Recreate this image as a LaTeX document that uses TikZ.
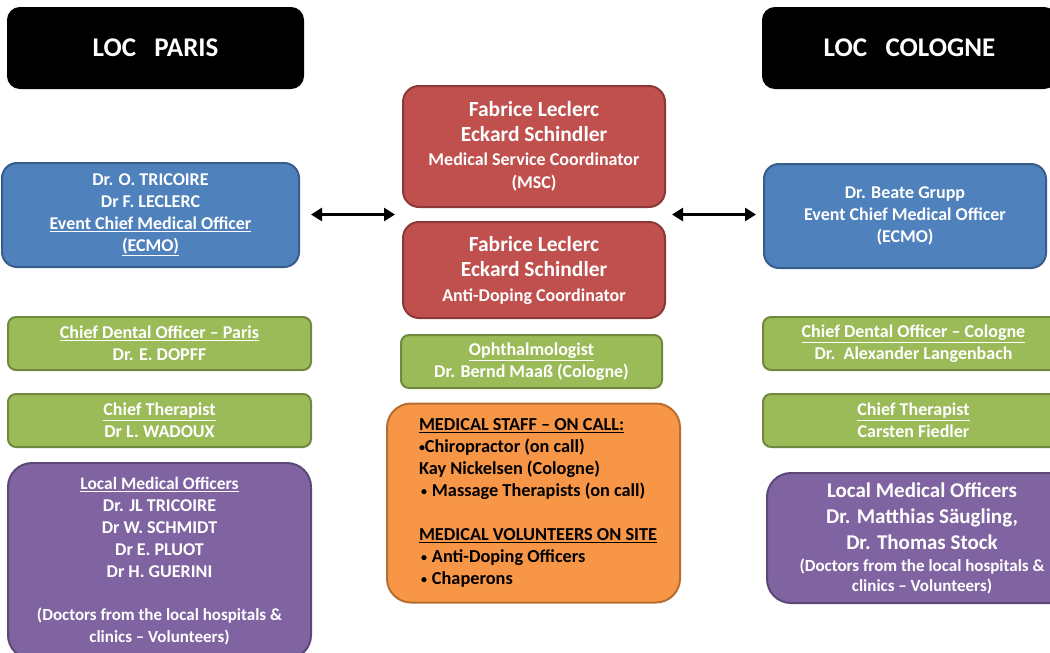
\documentclass[tikz,border=0pt]{standalone}
\usepackage{fontspec}
\setmainfont{Carlito}
\usetikzlibrary{arrows.meta,calc}
\definecolor{bluef}{HTML}{4F81BD}\definecolor{blued}{HTML}{385D8A}
\definecolor{redf}{HTML}{C0504D}\definecolor{redd}{HTML}{8C3836}
\definecolor{greenf}{HTML}{9BBB59}\definecolor{greend}{HTML}{71893F}
\definecolor{purplef}{HTML}{8064A2}\definecolor{purpled}{HTML}{5C4776}
\definecolor{orangef}{HTML}{F79646}\definecolor{oranged}{HTML}{B66D31}
\newcommand\fs[2]{\fontsize{#1}{#2}\selectfont}
\newcommand\bul{\hspace*{2pt}\raisebox{1pt}{\fs{12}{12}•}\hspace{5pt}}
\begin{document}
\begin{tikzpicture}[x=1pt,y=-1pt,
  box/.style={draw, line width=2pt, text=white, align=center, inner sep=0pt, font=\bfseries\fs{18}{21.7}},
  locbox/.style={box, fill=black, draw=black, rounded corners=12pt, font=\bfseries\fs{27}{30}},
  bluebox/.style={box, fill=bluef, draw=blued, rounded corners=15pt},
  redbox/.style={box, fill=redf, draw=redd, rounded corners=16pt, font=\bfseries\fs{21.5}{25}},
  greenbox/.style={box, fill=greenf, draw=greend, rounded corners=8pt, font=\bfseries\fs{18}{22}},
  purplebox/.style={box, fill=purplef, draw=purpled, rounded corners=24pt},
  orangebox/.style={box, fill=orangef, draw=oranged, rounded corners=24pt, text=black, align=left, text width=293pt, font=\bfseries\fs{18.3}{21.9}},
  link/.style={<->, line width=2.6pt, >={Stealth[length=11pt,width=13pt,inset=0pt]}}
]
\useasboundingbox (0,0) rectangle (1050,653);
\clip (0,0) rectangle (1050,653);

\node[locbox, minimum width=295pt, minimum height=80pt] (locP) at (155.5,48) {LOC\ \ \ PARIS};
\node[locbox, minimum width=293pt, minimum height=80pt] (locC) at (909.5,48) {LOC\ \ \ COLOGNE};

\node[bluebox, minimum width=297pt, minimum height=104pt] (blueL) at (150.5,215)
  {Dr. O. TRICOIRE\\Dr F. LECLERC\\\underline{Event Chief Medical Officer}\\\underline{(ECMO)}};
\node[redbox, minimum width=262pt, minimum height=121pt] (msc) at (534,146.5)
  {Fabrice Leclerc\\Eckard Schindler\\[-1pt]{\fs{18}{24}Medical Service Coordinator}\\[-2pt]{\fs{18}{23}(MSC)}};
\node[redbox, minimum width=262pt, minimum height=96pt] (ad) at (534,270)
  {Fabrice Leclerc\\Eckard Schindler\\{\fs{18}{24}Anti-Doping Coordinator}};
\node[bluebox, minimum width=282pt, minimum height=104pt] (blueR) at (905,216)
  {Dr. Beate Grupp\\Event Chief Medical Officer\\(ECMO)};

\node[greenbox, minimum width=303pt, minimum height=53pt] (dentP) at (159.5,343.5)
  {\underline{Chief Dental Officer – Paris}\\Dr. E. DOPFF};
\node[greenbox, minimum width=303pt, minimum height=53pt] (therP) at (159.5,420.5)
  {\underline{Chief Therapist}\\Dr L. WADOUX};
\node[greenbox, minimum width=261pt, minimum height=53pt] (oph) at (531.5,361.5)
  {\underline{Ophthalmologist}\\Dr. Bernd Maaß (Cologne)};
\node[greenbox, minimum width=301pt, minimum height=53pt] (dentC) at (913.5,343.5)
  {\underline{Chief Dental Officer – Cologne}\\Dr.\ \ Alexander Langenbach};
\node[greenbox, minimum width=301pt, minimum height=53pt] (therC) at (913.5,420.5)
  {\underline{Chief Therapist}\\Carsten Fiedler};

\node[purplebox, minimum width=303pt, minimum height=196pt, font=\bfseries\fs{18}{22}] (lmoP) at (159.5,561)
  {{\fs{17.5}{22}\underline{Local Medical Officers}}\\Dr. JL TRICOIRE\\Dr W. SCHMIDT\\Dr E. PLUOT\\Dr H. GUERINI\\[21pt]
   {\fs{17}{21}(Doctors from the local hospitals \&}\\{\fs{17}{21}clinics – Volunteers)}};
\node[orangebox, minimum height=199pt] (staff) at (533.5,503)
  {\leftskip=32pt\relax\spaceskip=0pt\relax\xspaceskip=0pt\relax
   \underline{MEDICAL STAFF – ON CALL:}\\\raisebox{1pt}{\fs{12}{12}•}Chiropractor (on call)\\Kay Nickelsen (Cologne)\\\bul Massage Therapists (on call)\\[21.9pt]
   \underline{MEDICAL VOLUNTEERS ON SITE}\\\bul Anti-Doping Officers\\\bul Chaperons\par};
\node[purplebox, minimum width=310pt, minimum height=130pt, font=\bfseries\fs{21}{26}] (lmoC) at (922,538)
  {Local Medical Officers\\Dr. Matthias Säugling,\\Dr. Thomas Stock\\[-4pt]{\fs{17}{21}(Doctors from the local hospitals \&}\\[-6pt]{\fs{17}{20}clinics – Volunteers)}};

\coordinate (gapL) at ($(msc.south west)!0.5!(ad.north west)$);
\coordinate (gapR) at ($(msc.south east)!0.5!(ad.north east)$);
\draw[link, shorten <=11pt, shorten >=7pt] (blueL.east |- gapL) -- (gapL);
\draw[link, shorten <=6pt, shorten >=7pt] (gapR) -- (gapR -| blueR.west);
\end{tikzpicture}
\end{document}
